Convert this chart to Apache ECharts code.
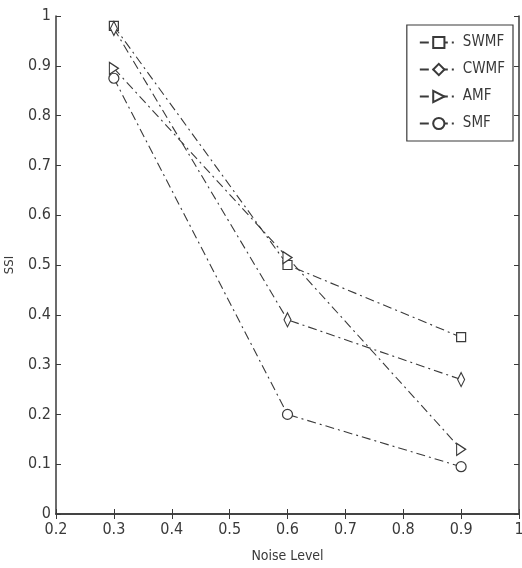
<!DOCTYPE html>
<html><head><meta charset="utf-8">
<script src="https://cdn.jsdelivr.net/npm/echarts@6/dist/echarts.min.js"></script>
<style>html,body{margin:0;padding:0;background:#fff}#c{width:522px;height:568px}</style>
</head><body><div id="c"></div>
<script>
var noiseLevels = [0.3, 0.6, 0.9];
var seriesNames = ['SWMF', 'CWMF', 'AMF', 'SMF'];
var swmf = [0.98, 0.50, 0.355];
var cwmf = [0.975, 0.39, 0.27];
var amf = [0.895, 0.515, 0.13];
var smf = [0.875, 0.20, 0.095];
var xTicks = [0.2, 0.3, 0.4, 0.5, 0.6, 0.7, 0.8, 0.9, 1];
var yTicks = [0, 0.1, 0.2, 0.3, 0.4, 0.5, 0.6, 0.7, 0.8, 0.9, 1];

var values = [swmf, cwmf, amf, smf];
var symbols = ['rect', 'diamond', 'path://M0,0 L10,5 L0,10 Z', 'circle'];
var sizes = [[9, 9], [7, 14], [9, 12], [10, 10]];
var font = '"DejaVu Sans Condensed","Liberation Sans Narrow","Liberation Sans",Arial,sans-serif';
var ink = '#3a3a3a';

var chart = echarts.init(document.getElementById('c'));
var series = seriesNames.map(function (n, i) {
  return {
    name: n, type: 'line',
    data: noiseLevels.map(function (x, j) { return [x, values[i][j]]; }),
    symbol: symbols[i], symbolSize: sizes[i],
    itemStyle: { color: '#fff', borderColor: ink, borderWidth: 1.2 },
    lineStyle: { color: ink, width: 1.1, type: [9, 4, 2, 4] },
    emphasis: { disabled: true }, animation: false
  };
});
var axisCommon = {
  axisLine: { lineStyle: { color: ink, width: 1.5 } },
  axisTick: { inside: true, length: 5, lineStyle: { color: ink } },
  splitLine: { show: false }
};
chart.setOption({
  animation: false,
  grid: { left: 56, right: 3, top: 16, bottom: 54, containLabel: false, outerBoundsMode: 'none' },
  legend: {
    data: seriesNames, orient: 'vertical', right: 9, top: 25,
    backgroundColor: '#fff', borderColor: ink, borderWidth: 1.2,
    padding: [10, 8, 10, 12], itemGap: 12, itemWidth: 38, itemHeight: 14,
    textStyle: { fontFamily: font, fontSize: 15, color: ink }
  },
  xAxis: [
    Object.assign({ type: 'value', min: 0.2, max: 1, interval: 0.1, position: 'bottom',
      name: 'Noise Level', nameLocation: 'middle', nameGap: 35,
      nameTextStyle: { fontFamily: font, fontSize: 14, color: ink },
      axisLabel: { fontFamily: font, fontSize: 16, color: ink, margin: 8,
        formatter: function (v) { return String(+v.toFixed(1)); } } }, axisCommon),
    Object.assign({ type: 'value', min: 0.2, max: 1, interval: 0.1, position: 'top',
      axisLabel: { show: false } }, axisCommon)
  ],
  yAxis: [
    Object.assign({ type: 'value', min: 0, max: 1, interval: 0.1, position: 'left',
      name: 'SSI', nameLocation: 'middle', nameGap: 40, nameRotate: 90,
      nameTextStyle: { fontFamily: font, fontSize: 13, color: ink },
      axisLabel: { fontFamily: font, fontSize: 16, color: ink, margin: 5,
        formatter: function (v) { return String(+v.toFixed(1)); } } }, axisCommon),
    Object.assign({ type: 'value', min: 0, max: 1, interval: 0.1, position: 'right',
      axisLabel: { show: false } }, axisCommon)
  ],
  series: series
});
</script></body></html>
